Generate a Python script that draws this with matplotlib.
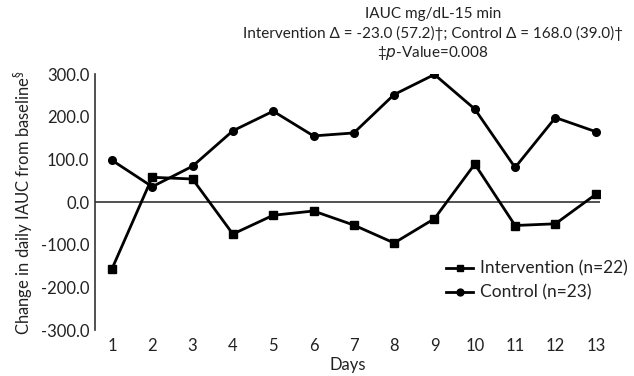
import matplotlib
matplotlib.use("Agg")
import matplotlib.pyplot as plt

plt.rcParams['font.family'] = ['Lato', 'DejaVu Sans']

days = list(range(1, 14))
intervention = [-157, 58, 54, -75, -31, -21, -54, -96, -39, 89, -55, -51, 18]
control = [98, 36, 84, 167, 213, 155, 162, 252, 299, 218, 81, 198, 165]
yticks = [-300, -200, -100, 0, 100, 200, 300]

fig = plt.figure(figsize=(6.34, 3.76), dpi=100)
ax = fig.add_axes([0.1498, 0.1223, 0.7962, 0.6807])

ax.plot(days, intervention, color='black', lw=2, marker='s', ms=5.5,
        label='Intervention (n=22)')
ax.plot(days, control, color='black', lw=2, marker='o', ms=5.5,
        label='Control (n=23)')
ax.axhline(0, color='#333333', lw=1.2, zorder=0)

ax.set_xlim(0.58, 13.1)
ax.set_ylim(-300, 300)
ax.set_xticks(days)
ax.set_yticks(yticks)
ax.set_yticklabels([f"{v:.1f}" for v in yticks])
ax.tick_params(axis='both', length=0, labelsize=12, colors='#222222')
ax.tick_params(axis='y', pad=4)
ax.tick_params(axis='x', pad=6)
for s in ['top', 'right', 'bottom']:
    ax.spines[s].set_visible(False)
ax.spines['left'].set_color('#333333')
ax.spines['left'].set_linewidth(1.2)

ax.set_xlabel('Days', fontsize=12, color='#222222', labelpad=2)
ax.set_ylabel(r'Change in daily IAUC from baseline$^{\S}$', fontsize=12,
              color='#222222', labelpad=4)

fig.text(0.683, 0.962, 'IAUC mg/dL-15 min', ha='center', va='center',
         fontsize=11, color='#222222')
fig.text(0.683, 0.911, 'Intervention Δ = -23.0 (57.2)†; Control Δ = 168.0 (39.0)†',
         ha='center', va='center', fontsize=11, color='#222222')
fig.text(0.683, 0.860, '‡$\\it{p}$-Value=0.008', ha='center', va='center',
         fontsize=11, color='#222222')

leg = fig.legend(loc='upper left', bbox_to_anchor=(0.692, 0.325), frameon=False,
                 fontsize=12.5, handlelength=1.6, handletextpad=0.4,
                 labelspacing=0.45, borderaxespad=0, markerscale=0.9)
for t in leg.get_texts():
    t.set_color('#222222')

fig.savefig('out.png', dpi=100)
